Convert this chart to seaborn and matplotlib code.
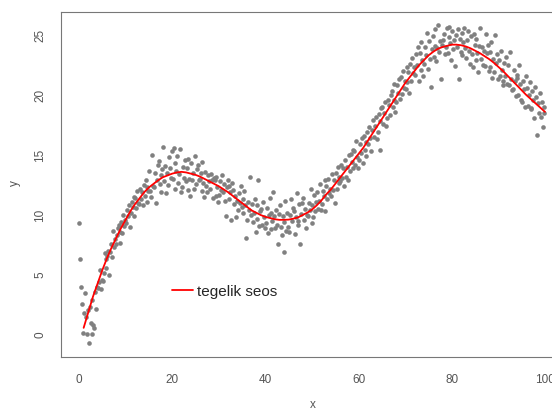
import numpy as np
import pandas as pd
import matplotlib
matplotlib.use("Agg")
import matplotlib.pyplot as plt
import seaborn as sns

# ---- data -------------------------------------------------------------
x_a = np.arange(0.1, 100, 1.0)
x_b = np.arange(0.3, 100, 1.0)
x_c = np.arange(0.5, 100, 1.0)
x_d = np.arange(0.7, 100, 1.0)
x_e = np.arange(0.9, 100, 1.0)

y_a = [9.3, 1.8, -0.7, 0.8, 3.9, 4.5, 6.6, 6.5, 8.3, 9.4,
       9.3, 10.2, 11.4, 12.2, 11.6, 13.7, 12.3, 14.5, 15.7, 12.5,
       13.0, 14.9, 12.3, 13.9, 14.3, 12.6, 13.5, 13.6, 12.2, 12.9,
       11.7, 12.6, 11.3, 12.1, 10.4, 11.3, 9.6, 10.9, 9.7, 10.5,
       9.3, 10.2, 8.9, 10.8, 9.4, 8.6, 10.3, 9.5, 11.4, 9.9,
       10.8, 11.9, 10.9, 12.4, 11.6, 13.5, 12.8, 14.6, 13.7, 15.3,
       14.6, 16.6, 15.9, 17.9, 16.9, 19.0, 18.1, 20.3, 19.4, 21.5,
       20.5, 22.6, 21.7, 23.5, 22.6, 24.5, 23.2, 25.8, 24.6, 23.5,
       25.3, 24.0, 25.2, 23.1, 24.9, 22.9, 25.6, 22.4, 23.6, 21.9,
       22.9, 21.2, 22.5, 20.5, 21.4, 19.4, 20.6, 18.8, 19.8, 18.2]
y_b = [6.3, 3.5, 2.3, 0.6, 4.4, 5.2, 7.0, 8.7, 8.9, 8.5,
       10.4, 11.1, 10.6, 11.3, 12.9, 12.0, 13.5, 12.6, 12.8, 14.8,
       15.6, 12.7, 14.0, 12.1, 12.9, 13.8, 12.0, 12.4, 13.4, 11.6,
       12.8, 11.2, 12.4, 10.9, 11.8, 10.2, 11.1, 9.4, 10.8, 9.2,
       10.6, 8.8, 10.4, 9.0, 11.2, 10.0, 8.4, 10.9, 9.6, 11.0,
       9.8, 10.5, 12.0, 11.3, 13.4, 12.2, 14.2, 13.2, 15.1, 14.2,
       15.9, 15.4, 17.3, 16.5, 18.4, 17.6, 19.6, 19.0, 20.8, 20.1,
       22.3, 21.2, 23.4, 22.1, 24.0, 23.0, 25.5, 23.6, 25.1, 24.8,
       23.8, 25.5, 23.3, 24.6, 23.4, 24.7, 23.0, 25.1, 22.3, 25.0,
       21.6, 22.7, 20.8, 22.1, 20.0, 21.2, 19.1, 20.3, 16.7, 19.4]
y_c = [4.0, 1.5, 1.0, 3.6, 5.4, 6.8, 5.0, 7.3, 9.2, 10.0,
       9.9, 10.7, 12.0, 11.9, 12.3, 11.5, 11.0, 13.3, 14.1, 13.9,
       12.2, 13.4, 13.1, 14.7, 13.5, 14.2, 14.4, 11.9, 12.9, 13.2,
       12.1, 9.9, 11.9, 11.6, 11.0, 12.0, 10.4, 10.2, 12.9, 11.1,
       8.5, 9.5, 9.2, 8.3, 8.7, 11.3, 9.8, 7.6, 10.5, 10.4,
       11.7, 11.2, 11.6, 13.0, 12.1, 14.0, 13.1, 14.0, 14.4, 16.2,
       15.2, 16.1, 16.4, 17.4, 17.8, 18.5, 19.2, 20.9, 20.2, 22.0,
       21.1, 23.1, 22.5, 24.4, 23.3, 20.7, 24.1, 24.5, 23.4, 25.7,
       24.6, 21.3, 24.4, 25.3, 22.3, 23.5, 24.0, 23.5, 24.4, 22.7,
       23.7, 21.6, 23.6, 21.2, 22.5, 20.5, 20.0, 19.6, 19.3, 17.3]
y_d = [2.6, 0.1, 0.1, 2.2, 3.8, 6.3, 6.9, 8.0, 7.7, 9.1,
       10.8, 9.9, 11.0, 10.8, 11.1, 15.0, 12.9, 11.9, 11.8, 13.1,
       14.3, 15.5, 14.6, 13.0, 12.2, 12.9, 12.7, 13.3, 11.4, 12.3,
       13.3, 12.3, 9.6, 9.8, 12.4, 10.8, 13.2, 11.3, 9.1, 9.8,
       10.0, 11.9, 7.6, 9.9, 10.2, 9.5, 11.8, 10.1, 8.9, 12.2,
       10.3, 12.6, 10.3, 11.8, 12.9, 12.7, 13.9, 12.9, 13.9, 14.8,
       16.4, 14.9, 15.3, 18.2, 15.4, 19.4, 18.3, 19.6, 21.3, 20.6,
       21.9, 21.8, 24.0, 22.9, 25.2, 23.8, 22.8, 21.3, 24.0, 24.3,
       22.4, 24.7, 25.6, 23.7, 25.1, 21.9, 22.5, 24.2, 21.4, 23.4,
       22.1, 23.2, 21.3, 19.9, 20.9, 19.0, 21.1, 18.1, 18.5, 19.0]
y_e = [0.2, 2.1, 2.9, 4.0, 4.6, 5.6, 7.6, 7.6, 8.6, 9.6,
       9.0, 11.5, 10.9, 12.5, 12.0, 12.4, 14.2, 13.8, 13.5, 15.3,
       13.7, 11.9, 12.8, 11.6, 14.9, 13.0, 11.5, 12.8, 13.1, 11.1,
       11.9, 12.9, 12.7, 11.2, 10.7, 8.1, 10.0, 8.6, 10.3, 8.9,
       11.4, 9.9, 10.1, 6.9, 9.0, 10.6, 9.2, 11.0, 10.0, 9.3,
       11.1, 10.4, 12.9, 12.2, 11.0, 13.2, 12.4, 15.0, 15.4, 13.9,
       14.3, 16.9, 17.1, 16.3, 18.9, 17.4, 20.0, 18.6, 19.7, 21.2,
       20.2, 22.3, 21.2, 21.6, 22.2, 24.9, 23.9, 24.2, 25.6, 22.9,
       25.0, 23.6, 23.9, 22.6, 24.2, 24.1, 23.7, 22.0, 23.0, 21.3,
       20.8, 20.9, 20.4, 21.7, 19.6, 21.6, 18.9, 20.7, 20.2, 18.5]

curve_x = np.arange(1, 101)
curve_y = [0.6, 1.9, 3.2, 4.3, 5.4, 6.4, 7.3, 8.1, 8.9, 9.6,
           10.3, 10.9, 11.4, 11.9, 12.3, 12.6, 12.9, 13.15, 13.3, 13.45,
           13.55, 13.6, 13.55, 13.45, 13.35, 13.2, 13.0, 12.8, 12.6, 12.4,
           12.15, 11.9, 11.6, 11.3, 11.0, 10.7, 10.4, 10.2, 10.0, 9.85,
           9.75, 9.65, 9.6, 9.6, 9.62, 9.7, 9.8, 10.0, 10.2, 10.45,
           10.8, 11.2, 11.7, 12.1, 12.6, 13.1, 13.6, 14.1, 14.6, 15.1,
           15.6, 16.2, 16.8, 17.4, 18.0, 18.6, 19.2, 19.8, 20.4, 21.0,
           21.5, 22.0, 22.5, 22.9, 23.3, 23.6, 23.85, 24.0, 24.1, 24.2,
           24.2, 24.15, 24.05, 23.9, 23.7, 23.5, 23.25, 23.0, 22.7, 22.35,
           22.0, 21.6, 21.2, 20.8, 20.4, 20.0, 19.65, 19.3, 18.95, 18.6]

x_ticks = [0, 20, 40, 60, 80, 100]
y_ticks = [0, 5, 10, 15, 20, 25]
legend_label = "tegelik seos"

points = pd.DataFrame({
    "x": np.concatenate([x_a, x_b, x_c, x_d, x_e]),
    "y": np.concatenate([y_a, y_b, y_c, y_d, y_e]),
})
curve = pd.DataFrame({"x": curve_x, "y": curve_y})

# ---- style ------------------------------------------------------------
sns.set_theme(style="white")
plt.rcParams["font.family"] = ["Liberation Sans", "DejaVu Sans"]

fig = plt.figure(figsize=(5.52, 4.11), dpi=100)
ax = fig.add_axes([61 / 552, 1 - 357 / 411, 502.6 / 552, 345 / 411])

sns.scatterplot(data=points, x="x", y="y", ax=ax, color="#808080",
                s=11, linewidth=0, alpha=1, zorder=2)
sns.lineplot(data=curve, x="x", y="y", ax=ax, color="#ff0000",
             linewidth=1.3, sort=False, estimator=None, label=legend_label,
             zorder=3)

ax.set_xlim(-3.86, 104.0)
ax.set_ylim(-1.83, 26.92)
ax.set_xticks(x_ticks)
ax.set_yticks(y_ticks)
ax.set_xticklabels([str(v) for v in x_ticks])
ax.set_yticklabels([str(v) for v in y_ticks], rotation=90, va="center")

gray_line = "#777777"
gray_text = "#555555"
for sp in ax.spines.values():
    sp.set_color(gray_line)
    sp.set_linewidth(0.8)
    sp.set_visible(True)
ax.tick_params(axis="both", direction="out", length=4.3, width=0.8,
               color=gray_line, labelcolor=gray_text, labelsize=8.5)
ax.tick_params(axis="x", pad=8.0)
ax.tick_params(axis="y", pad=6.5)

ax.set_xlabel("x", fontsize=8.5, color=gray_text)
ax.set_ylabel("y", fontsize=8.5, color=gray_text)
ax.xaxis.set_label_coords(0.5, -0.139)
ax.xaxis.label.set_va("center")
ax.yaxis.set_label_coords(-0.0915, 0.504)
ax.yaxis.label.set_va("center")

ax.legend(loc="center left", bbox_to_anchor=(20, 3.6),
          bbox_transform=ax.transData, frameon=False, fontsize=11,
          handlelength=1.35, handletextpad=0.25, borderpad=0,
          borderaxespad=0)

fig.savefig("out.png", dpi=100)
